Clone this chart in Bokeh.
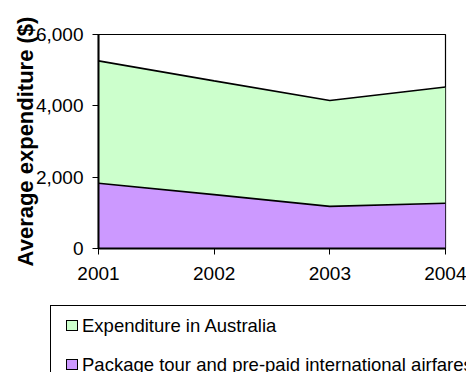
from bokeh.embed import file_html
from bokeh.layouts import column
from bokeh.models import ColumnDataSource, Div, FixedTicker, NumeralTickFormatter, Range1d
from bokeh.plotting import figure
from bokeh.resources import INLINE

# Average expenditure per visitor, by year
years = [2001, 2002, 2003, 2004]
package_airfares = [1830, 1510, 1180, 1270]
in_australia = [3430, 3190, 2970, 3260]

series_names = ["Package tour and pre-paid international airfares", "Expenditure in Australia"]
series_colors = ["#CC99FF", "#CCFFCC"]

y_ticks = [0, 2000, 4000, 6000]

FONT = "Liberation Sans"

source = ColumnDataSource(dict(
    year=years,
    package=package_airfares,
    australia=in_australia,
    top=[a + b for a, b in zip(package_airfares, in_australia)],
))

p = figure(
    width=466, height=305,
    x_range=Range1d(2001, 2004), y_range=Range1d(0, 6000),
    output_backend="svg", toolbar_location=None,
    min_border_left=98, min_border_right=21, min_border_top=34, min_border_bottom=57,
)
p.grid.visible = False
p.outline_line_color = "black"
p.outline_line_width = 1.2

p.varea_stack(["package", "australia"], x="year", source=source, color=series_colors)
p.line("year", "package", source=source, line_color="black", line_width=1.6)
p.line("year", "top", source=source, line_color="black", line_width=1.6)

for ax in (p.xaxis, p.yaxis):
    ax.axis_line_color = "black"
    ax.axis_line_width = 2
    ax.major_tick_line_color = "black"
    ax.major_tick_line_width = 1
    ax.major_tick_in = 0
    ax.major_tick_out = 6
    ax.minor_tick_line_color = None
    ax.major_label_text_font = FONT
    ax.major_label_text_font_size = "19px"
    ax.major_label_text_color = "black"

p.xaxis.ticker = FixedTicker(ticks=years)
p.xaxis.major_label_standoff = 12
p.yaxis.ticker = FixedTicker(ticks=y_ticks)
p.yaxis.formatter = NumeralTickFormatter(format="0,0")
p.yaxis.major_label_standoff = 9

p.yaxis.axis_label = "Average expenditure ($)"
p.yaxis.axis_label_standoff = -5
p.yaxis.axis_label_text_font = FONT
p.yaxis.axis_label_text_font_size = "22px"
p.yaxis.axis_label_text_font_style = "bold"
p.yaxis.axis_label_text_color = "black"

# Legend panel under the chart; its frame runs off the right and bottom edges
entries = [(series_names[1], series_colors[1]), (series_names[0], series_colors[0])]
rows = []
for i, (name, color) in enumerate(entries):
    cy = 20 + i * 39.5
    rows.append(
        f'<div style="position:absolute;left:66px;top:{cy - 5.5}px;width:12px;height:11px;'
        f'box-sizing:border-box;background:{color};border:1px solid black;"></div>'
        f'<div style="position:absolute;left:82px;top:{cy - 10.5}px;line-height:21px;'
        f'white-space:nowrap;">{name}</div>'
    )
legend_html = (
    f'<div style="position:relative;width:466px;height:67px;overflow:hidden;'
    f'font-family:\'{FONT}\';font-size:18.5px;color:black;">'
    '<div style="position:absolute;left:50px;top:0px;width:460px;height:120px;'
    'box-sizing:border-box;border:1.2px solid black;"></div>'
    + "".join(rows) + "</div>"
)
legend = Div(text=legend_html, width=466, height=67, margin=0,
             styles={"overflow": "hidden"})

layout = column(p, legend, spacing=0)

open("out.html", "w").write(file_html(layout, INLINE))
